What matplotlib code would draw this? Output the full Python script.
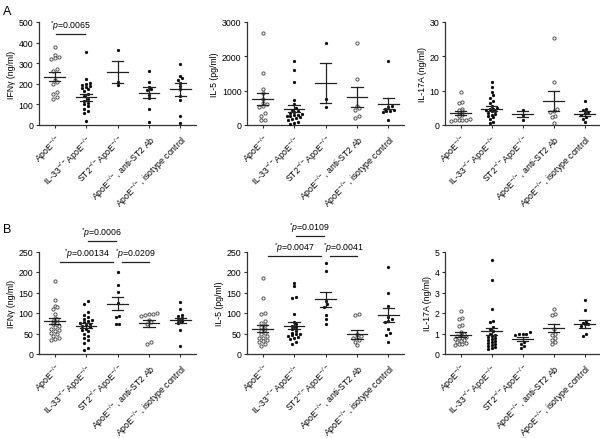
import numpy as np
import matplotlib
matplotlib.use('Agg')
import matplotlib.pyplot as plt

plt.rcParams['font.family'] = ['Liberation Sans', 'DejaVu Sans']
plt.rcParams['mathtext.fontset'] = 'custom'
plt.rcParams['mathtext.rm'] = 'Liberation Sans'
plt.rcParams['mathtext.it'] = 'Liberation Sans:italic'
plt.rcParams['mathtext.default'] = 'regular'

# ---------------- data ----------------
categories = [r'ApoE$^{-/-}$', r'IL-33$^{-/-}$ApoE$^{-/-}$', r'ST2$^{-/-}$ApoE$^{-/-}$',
              r'ApoE$^{-/-}$, anti-ST2 Ab', r'ApoE$^{-/-}$, isotype control']

# Panel A - IFNg (ng/ml)
a_ifng = [
    [380, 340, 330, 325, 320, 270, 260, 220, 210, 200, 160, 150, 135, 125],
    [355, 225, 205, 200, 195, 190, 185, 180, 175, 165, 150, 140, 125, 115, 105, 100, 90, 80, 70, 60, 20],
    [365, 210, 195],
    [260, 210, 185, 175, 170, 145, 130, 80, 15],
    [298, 240, 230, 220, 205, 190, 175, 140, 120, 45, 10],
]
a_ifng_mean = [235, 135, 258, 157, 173]
a_ifng_sem = [23, 17, 52, 27, 32]

# Panel A - IL-5 (pg/ml)
a_il5 = [
    [2680, 1520, 1050, 920, 750, 640, 600, 560, 520, 350, 270, 150, 140],
    [1850, 1600, 1250, 740, 600, 500, 450, 400, 380, 350, 330, 300, 280, 260, 250, 230, 200, 180, 150, 100, 60, 30],
    [2400, 760, 520],
    [2400, 1330, 560, 500, 450, 260, 200],
    [1860, 560, 520, 480, 440, 420, 400, 380, 150],
]
a_il5_mean = [760, 475, 1230, 820, 620]
a_il5_sem = [175, 105, 590, 295, 165]

# Panel A - IL-17A (ng/ml)
a_il17 = [
    [9.5, 6.7, 6.4, 4.7, 4.5, 4.2, 3.5, 3.0, 2.5, 1.7, 1.5, 1.4, 1.5, 1.3, 1.6],
    [12.5, 11.0, 9.5, 8.6, 7.9, 6.9, 6.4, 5.5, 5.0, 4.8, 4.6, 4.4, 4.2, 4.0, 3.5, 3.2, 3.0, 2.6, 2.2, 1.7, 1.0, 0.5],
    [4.5, 3.0, 1.4],
    [25.2, 12.6, 4.7, 4.2, 3.9, 2.7, 2.3, 0.6],
    [7.1, 4.7, 4.3, 3.8, 3.5, 3.0, 2.4, 1.7, 0.8],
]
a_il17_mean = [3.5, 4.8, 3.2, 7.0, 3.3]
a_il17_sem = [0.65, 0.65, 0.9, 3.0, 0.65]

# Panel B - IFNg (ng/ml)
b_ifng = [
    [177, 131, 118, 114, 110, 98, 88, 85, 80, 75, 72, 68, 65, 62, 58, 55, 52, 48, 44, 40, 37, 35],
    [130, 123, 102, 96, 90, 86, 83, 80, 78, 76, 73, 70, 68, 65, 62, 58, 55, 50, 45, 40, 35, 28, 14, 10],
    [199, 168, 152, 125, 92, 90, 74, 72],
    [100, 98, 97, 95, 93, 82, 78, 72, 30, 25],
    [128, 110, 96, 92, 88, 84, 80, 76, 58, 20],
]
b_ifng_mean = [80, 69, 123, 75, 82]
b_ifng_sem = [7, 6, 15, 8, 7]

# Panel B - IL-5 (pg/ml)
b_il5 = [
    [186, 136, 99, 98, 80, 76, 70, 65, 60, 56, 52, 48, 44, 40, 38, 35, 32, 30, 25, 20],
    [173, 165, 140, 136, 98, 78, 72, 68, 65, 60, 55, 52, 50, 48, 46, 44, 42, 40, 36, 30, 25],
    [223, 203, 130, 122, 115, 96, 85, 73],
    [98, 96, 50, 45, 42, 40, 35, 30, 22],
    [211, 150, 118, 90, 85, 81, 79, 60, 52, 46, 30],
]
b_il5_mean = [62, 69, 133, 48, 95]
b_il5_sem = [8, 8, 19, 11, 17]

# Panel B - IL-17A (ng/ml)
b_il17 = [
    [2.1, 1.75, 1.7, 1.4, 1.35, 1.05, 1.0, 0.95, 0.9, 0.85, 0.8, 0.8, 0.75, 0.7, 0.65, 0.6, 0.55, 0.5, 0.5, 0.45],
    [4.6, 3.6, 2.2, 1.6, 1.55, 1.3, 1.2, 1.1, 1.0, 0.95, 0.9, 0.85, 0.8, 0.75, 0.7, 0.65, 0.6, 0.55, 0.5, 0.45, 0.4, 0.35, 0.3, 0.25],
    [1.05, 1.0, 1.0, 1.0, 0.95, 0.6, 0.5, 0.4, 0.3],
    [2.2, 1.95, 1.9, 1.2, 1.0, 0.95, 0.8, 0.7, 0.6, 0.5],
    [2.65, 2.15, 1.55, 1.5, 1.48, 1.45, 1.35, 1.0, 0.87],
]
b_il17_mean = [0.95, 1.1, 0.75, 1.25, 1.47]
b_il17_sem = [0.1, 0.18, 0.1, 0.2, 0.2]

# significance annotations: (group_from, group_to, line value, label)
a_ifng_sig = [(0, 1, 442, r'$^{*}\mathit{p}$=0.0065')]
b_ifng_sig = [(0, 2, 225, r'$^{*}\mathit{p}$=0.00134'),
              (2, 3, 225, r'$^{*}\mathit{p}$=0.0209'),
              (1, 2, 275, r'$^{*}\mathit{p}$=0.0006')]
b_il5_sig = [(0, 2, 239, r'$^{*}\mathit{p}$=0.0047'),
             (2, 3, 239, r'$^{*}\mathit{p}$=0.0041'),
             (1, 2, 287, r'$^{*}\mathit{p}$=0.0109')]

# ---------------- layout ----------------
fig = plt.figure(figsize=(6.0, 4.39), dpi=100)
FW, FH = 600, 439
cols = [(39, 157), (247, 157), (445, 155)]
rows = [(23, 103), (252.5, 102.5)]

panels = [
    (0, 0, a_ifng, a_ifng_mean, a_ifng_sem, (0, 500), [0, 100, 200, 300, 400, 500], 'IFNγ (ng/ml)', [0], a_ifng_sig),
    (0, 1, a_il5, a_il5_mean, a_il5_sem, (0, 3000), [0, 1000, 2000, 3000], 'IL-5 (pg/ml)', [0, 3], []),
    (0, 2, a_il17, a_il17_mean, a_il17_sem, (0, 30), [0, 10, 20, 30], 'IL-17A (ng/ml)', [0, 3], []),
    (1, 0, b_ifng, b_ifng_mean, b_ifng_sem, (0, 250), [0, 50, 100, 150, 200, 250], 'IFNγ (ng/ml)', [0, 3], b_ifng_sig),
    (1, 1, b_il5, b_il5_mean, b_il5_sem, (0, 250), [0, 50, 100, 150, 200, 250], 'IL-5 (pg/ml)', [0, 3], b_il5_sig),
    (1, 2, b_il17, b_il17_mean, b_il17_sem, (0, 5), [0, 1, 2, 3, 4, 5], 'IL-17A (ng/ml)', [0, 3], []),
]


def scatter_offsets(vals, ymin, ymax, h_px, cat_px, dx=3.8, dy=3.0):
    """GraphPad-like symmetric row spreading of close values."""
    v = np.asarray(vals, float)
    ypx = (v - ymin) / (ymax - ymin) * h_px
    order = np.argsort(ypx)
    offs = np.zeros(len(v))
    i = 0
    while i < len(order):
        j = i
        while j + 1 < len(order) and ypx[order[j + 1]] - ypx[order[i]] < dy:
            j += 1
        grp = order[i:j + 1]
        n = len(grp)
        for k, idx in enumerate(grp):
            offs[idx] = (k - (n - 1) / 2) * dx / cat_px
        i = j + 1
    return offs


FS = 6.3
LC = '#222222'
for r, c, data, means, sems, ylim, yticks, ylabel, open_groups, sigs in panels:
    left, w = cols[c]
    top, h = rows[r]
    ax = fig.add_axes([left / FW, 1 - (top + h) / FH, w / FW, h / FH])
    cat_px = w / len(categories)
    for g, vals in enumerate(data):
        xs = g + scatter_offsets(vals, ylim[0], ylim[1], h, cat_px)
        if g in open_groups:
            ax.plot(xs, vals, 'o', ms=2.3, mfc='white', mec='#555555', mew=0.7, clip_on=False, zorder=3)
        else:
            ax.plot(xs, vals, 'o', ms=2.0, mfc='black', mec='black', mew=0.3, clip_on=False, zorder=3)
        m, s = means[g], sems[g]
        ax.plot([g - 0.33, g + 0.33], [m, m], color=LC, lw=0.9, zorder=4)
        ax.plot([g - 0.18, g + 0.18], [m + s, m + s], color=LC, lw=0.9, zorder=4)
        ax.plot([g - 0.18, g + 0.18], [m - s, m - s], color=LC, lw=0.9, zorder=4)
        ax.plot([g, g], [m - s, m + s], color=LC, lw=0.9, zorder=4)
    span = ylim[1] - ylim[0]
    for g0, g1, yl, lab in sigs:
        if g1 - g0 > 1:
            x0, x1 = g0 + 0.18, g1 - 0.15
        elif g0 == 2:
            x0, x1 = g0 + 0.15, g1
        else:
            x0, x1 = g0 + 0.05, g1 - 0.05
        ax.plot([x0, x1], [yl, yl], color=LC, lw=0.9, clip_on=False)
        ax.text((x0 + x1) / 2, yl + span * 0.085, lab, ha='center', va='center', fontsize=FS, clip_on=False)
    ax.set_xlim(-0.5, len(categories) - 0.5)
    ax.set_ylim(*ylim)
    ax.set_yticks(yticks)
    ax.set_xticks(range(len(categories)))
    ax.set_xticklabels(categories, rotation=45, ha='right', rotation_mode='anchor', fontsize=FS)
    ax.tick_params(axis='y', labelsize=FS, length=2.5, width=0.8, pad=1.5, color='#333333')
    ax.tick_params(axis='x', length=2.5, width=0.8, pad=2.5, color='#333333')
    ax.set_ylabel(ylabel, fontsize=FS, labelpad=2)
    for sp in ['top', 'right']:
        ax.spines[sp].set_visible(False)
    for sp in ['left', 'bottom']:
        ax.spines[sp].set_linewidth(0.9)
        ax.spines[sp].set_color('#333333')

fig.text(3 / FW, 1 - 12 / FH, 'A', fontsize=9, va='center', ha='left')
fig.text(3 / FW, 1 - 230 / FH, 'B', fontsize=9, va='center', ha='left')

fig.savefig('out.png', dpi=100)
